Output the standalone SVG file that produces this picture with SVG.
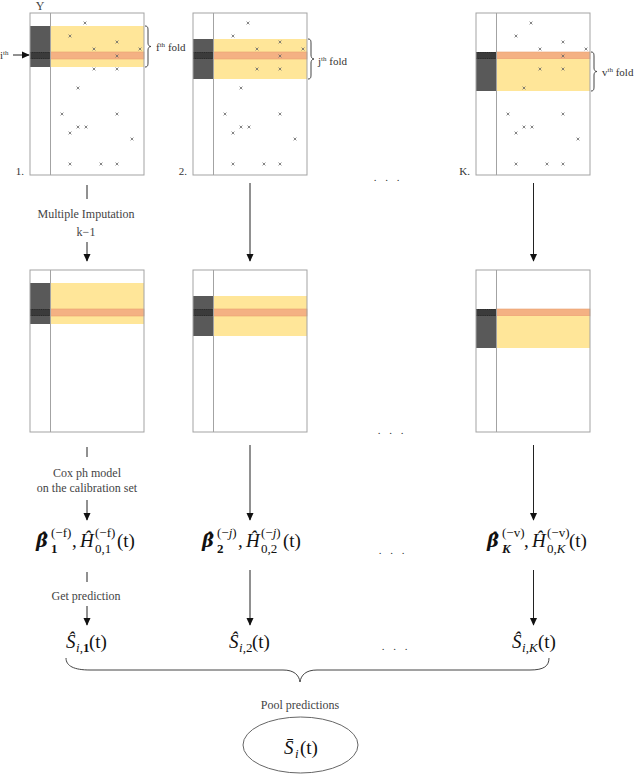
<svg xmlns="http://www.w3.org/2000/svg" xmlns:xlink="http://www.w3.org/1999/xlink" width="640" height="774" viewBox="0 0 640 774">
<style>
.frame{fill:none;stroke:#a3a3a3;stroke-width:1}
.bg{fill:#ffffff}
.yel{fill:#ffe699}
.ora{fill:#f4b183;stroke:#e9a070;stroke-width:0.6}
.dark{fill:#595959}
.darker{fill:#3b3b3b}
.dots{stroke:#222;stroke-width:0.7;stroke-dasharray:1 1.2}
.lbl{font-family:"Liberation Serif","DejaVu Serif",serif;font-size:12px;fill:#444}
.sm{font-family:"Liberation Serif","DejaVu Serif",serif;font-size:11px;fill:#333}
.m{font-family:"Liberation Serif","DejaVu Serif",serif;font-size:19px;fill:#111}
.mi{font-family:"Liberation Serif","DejaVu Serif",serif;font-size:19px;font-style:italic;fill:#111}
.mb{font-family:"DejaVu Serif","Liberation Serif",serif;font-size:18px;font-style:italic;font-weight:bold;fill:#111}
.s{font-family:"Liberation Serif","DejaVu Serif",serif;font-size:13px;fill:#111}
.conn{stroke:#222;stroke-width:1;fill:none}
.brace{stroke:#444;stroke-width:1;fill:none}
.x{stroke:#666;stroke-width:0.8}
</style>
<defs>
<marker id="ah" viewBox="0 0 10 10" refX="9" refY="5" markerWidth="8" markerHeight="8" markerUnits="userSpaceOnUse" orient="auto">
<path d="M0,0.5 L10,5 L0,9.5 z" fill="#111"/>
</marker>
<path id="xm" class="x" d="M-1.4,-1.4 L1.4,1.4 M1.4,-1.4 L-1.4,1.4"/>
<g id="crosses">
<use xlink:href="#xm" x="55" y="10"/><use xlink:href="#xm" x="40" y="23"/><use xlink:href="#xm" x="87" y="29"/>
<use xlink:href="#xm" x="64" y="36"/><use xlink:href="#xm" x="110" y="36"/><use xlink:href="#xm" x="87" y="43"/>
<use xlink:href="#xm" x="64" y="56"/><use xlink:href="#xm" x="87" y="56"/><use xlink:href="#xm" x="48" y="75"/>
<use xlink:href="#xm" x="32" y="101"/><use xlink:href="#xm" x="87" y="101"/><use xlink:href="#xm" x="48" y="114"/>
<use xlink:href="#xm" x="56" y="114"/><use xlink:href="#xm" x="40" y="120"/><use xlink:href="#xm" x="102" y="126"/>
<use xlink:href="#xm" x="40" y="151"/><use xlink:href="#xm" x="71" y="151"/><use xlink:href="#xm" x="87" y="151"/>
</g>
</defs>
<rect width="640" height="774" fill="#ffffff"/>

<!-- top row -->
<g id="data-1">
<text class="lbl" x="40" y="10" text-anchor="middle">Y</text>
<rect class="bg" x="30" y="13" width="114" height="162"/>
<rect class="yel" x="50" y="26" width="94" height="41"/>
<rect class="dark" x="30" y="26" width="20" height="41"/>
<rect class="ora" x="50" y="52" width="94" height="7"/>
<rect class="darker" x="30" y="52" width="20" height="7"/>
<path class="dots" d="M30,52.5 H50 M30,58.5 H50"/>
<rect class="frame" x="30" y="13" width="114" height="162"/>
<line class="frame" x1="50.5" y1="13" x2="50.5" y2="175"/>
<use xlink:href="#crosses" transform="translate(30,13)"/>
<text class="sm" x="0" y="59">i<tspan dy="-4" font-size="7">th</tspan></text>
<line class="conn" x1="13" y1="55" x2="29" y2="55" marker-end="url(#ah)"/>
<path class="brace" d="M145,26 C148,26 148,28 148,31 L148,43 C148,45 149,46.5 151,46.5 C149,46.5 148,48 148,50 L148,62 C148,65 148,67 145,67"/>
<text class="sm" x="156" y="51">f<tspan dy="-4" font-size="7">th</tspan><tspan dy="4"> fold</tspan></text>
<text class="sm" x="24" y="175" text-anchor="end">1.</text>
</g>

<g id="data-2">
<rect class="bg" x="193" y="13" width="114" height="162"/>
<rect class="yel" x="213" y="39" width="94" height="40"/>
<rect class="dark" x="193" y="39" width="20" height="40"/>
<rect class="ora" x="213" y="52" width="94" height="7"/>
<rect class="darker" x="193" y="52" width="20" height="7"/>
<path class="dots" d="M193,52.5 H213 M193,58.5 H213"/>
<rect class="frame" x="193" y="13" width="114" height="162"/>
<line class="frame" x1="213.5" y1="13" x2="213.5" y2="175"/>
<use xlink:href="#crosses" transform="translate(193,13)"/>
<path class="brace" d="M308,39 C311,39 311,41 311,44 L311,55 C311,57 312,59 314,59 C312,59 311,61 311,63 L311,74 C311,77 311,79 308,79"/>
<text class="sm" x="318" y="65">j<tspan dy="-4" font-size="7">th</tspan><tspan dy="4"> fold</tspan></text>
<text class="sm" x="187" y="175" text-anchor="end">2.</text>
</g>

<g id="data-K">
<rect class="bg" x="476" y="13" width="114" height="162"/>
<rect class="ora" x="496" y="52" width="94" height="7"/>
<rect class="yel" x="496" y="59" width="94" height="32"/>
<rect class="dark" x="476" y="52" width="20" height="39"/>
<rect class="darker" x="476" y="52" width="20" height="7"/>
<path class="dots" d="M476,52.5 H496 M476,58.5 H496"/>
<rect class="frame" x="476" y="13" width="114" height="162"/>
<line class="frame" x1="496.5" y1="13" x2="496.5" y2="175"/>
<use xlink:href="#crosses" transform="translate(476,13)"/>
<path class="brace" d="M591,52 C594,52 594,54 594,57 L594,68 C594,70 595,71.5 597,71.5 C595,71.5 594,73 594,75 L594,86 C594,89 594,91 591,91"/>
<text class="sm" x="602" y="76">v<tspan dy="-4" font-size="7">th</tspan><tspan dy="4"> fold</tspan></text>
<text class="sm" x="470" y="175" text-anchor="end">K.</text>
</g>
<text class="sm" x="388" y="181" text-anchor="middle" letter-spacing="3">. . .</text>

<!-- middle row -->
<g id="imputed-1">
<rect class="bg" x="30" y="270" width="114" height="162"/>
<rect class="yel" x="50" y="283" width="94" height="41"/>
<rect class="dark" x="30" y="283" width="20" height="41"/>
<rect class="ora" x="50" y="309" width="94" height="7"/>
<rect class="darker" x="30" y="309" width="20" height="7"/>
<path class="dots" d="M30,309.5 H50 M30,315.5 H50"/>
<rect class="frame" x="30" y="270" width="114" height="162"/>
<line class="frame" x1="50.5" y1="270" x2="50.5" y2="432"/>
</g>
<g id="imputed-2">
<rect class="bg" x="193" y="270" width="114" height="162"/>
<rect class="yel" x="213" y="296" width="94" height="40"/>
<rect class="dark" x="193" y="296" width="20" height="40"/>
<rect class="ora" x="213" y="309" width="94" height="7"/>
<rect class="darker" x="193" y="309" width="20" height="7"/>
<path class="dots" d="M193,309.5 H213 M193,315.5 H213"/>
<rect class="frame" x="193" y="270" width="114" height="162"/>
<line class="frame" x1="213.5" y1="270" x2="213.5" y2="432"/>
</g>
<g id="imputed-K">
<rect class="bg" x="476" y="270" width="114" height="162"/>
<rect class="ora" x="496" y="309" width="94" height="7"/>
<rect class="yel" x="496" y="316" width="94" height="32"/>
<rect class="dark" x="476" y="309" width="20" height="39"/>
<rect class="darker" x="476" y="309" width="20" height="7"/>
<path class="dots" d="M476,309.5 H496 M476,315.5 H496"/>
<rect class="frame" x="476" y="270" width="114" height="162"/>
<line class="frame" x1="496.5" y1="270" x2="496.5" y2="432"/>
</g>
<text class="sm" x="392" y="434" text-anchor="middle" letter-spacing="3">. . .</text>

<!-- estimates -->
<g id="est-1" transform="translate(36,547)">
<text class="mb" x="0" y="0">β̂</text>
<text class="s" x="15" y="6" font-weight="bold">1</text>
<text class="s" x="15" y="-10">(−f)</text>
<text class="m" x="36" y="0">,</text>
<text class="mi" x="44" y="0">Ĥ</text>
<text class="s" x="59" y="6">0,1</text>
<text class="s" x="59" y="-10">(−f)</text>
<text class="m" x="81" y="0">(t)</text>
</g>
<g id="est-2" transform="translate(202,547)">
<text class="mb" x="0" y="0">β̂</text>
<text class="s" x="15" y="6" font-weight="bold">2</text>
<text class="s" x="15" y="-10">(−<tspan font-style="italic">j</tspan>)</text>
<text class="m" x="36" y="0">,</text>
<text class="mi" x="44" y="0">Ĥ</text>
<text class="s" x="59" y="6">0,2</text>
<text class="s" x="59" y="-10">(−<tspan font-style="italic">j</tspan>)</text>
<text class="m" x="81" y="0">(t)</text>
</g>
<g id="est-K" transform="translate(487,547)">
<text class="mb" x="0" y="0">β̂</text>
<text class="s" x="15" y="6" font-weight="bold" font-style="italic">K</text>
<text class="s" x="15" y="-10">(−v)</text>
<text class="m" x="37" y="0">,</text>
<text class="mi" x="45" y="0">Ĥ</text>
<text class="s" x="60" y="6">0,<tspan font-style="italic">K</tspan></text>
<text class="s" x="60" y="-10">(−v)</text>
<text class="m" x="82" y="0">(t)</text>
</g>
<text class="sm" x="393" y="554" text-anchor="middle" letter-spacing="3">. . .</text>

<!-- predictions -->
<g id="pred-1" transform="translate(66,648)">
<text class="mi" x="0" y="0">Ŝ</text>
<text class="s" x="10" y="4"><tspan font-style="italic">i</tspan>,<tspan font-weight="bold">1</tspan></text>
<text class="m" x="23" y="0">(t)</text>
</g>
<g id="pred-2" transform="translate(229,648)">
<text class="mi" x="0" y="0">Ŝ</text>
<text class="s" x="10" y="4"><tspan font-style="italic">i</tspan>,2</text>
<text class="m" x="23" y="0">(t)</text>
</g>
<g id="pred-K" transform="translate(512,648)">
<text class="mi" x="0" y="0">Ŝ</text>
<text class="s" x="10" y="4"><tspan font-style="italic">i</tspan>,<tspan font-style="italic">K</tspan></text>
<text class="m" x="26" y="0">(t)</text>
</g>
<text class="sm" x="396" y="650" text-anchor="middle" letter-spacing="3">. . .</text>

<!-- pooled -->
<g id="pooled">
<ellipse cx="300.5" cy="745" rx="57.5" ry="28" fill="none" stroke="#666" stroke-width="1"/>
<text class="mi" x="284" y="754" font-size="21">S̄</text>
<text class="s" x="295" y="758" font-style="italic" font-size="14">i</text>
<text class="m" x="300" y="754" font-size="20">(t)</text>
</g>

<!-- connectors -->
<g id="connectors">
<line class="conn" x1="87" y1="185" x2="87" y2="199"/>
<text class="lbl" x="86" y="218" text-anchor="middle">Multiple Imputation</text>
<text class="lbl" x="86" y="236" text-anchor="middle">k−1</text>
<line class="conn" x1="87" y1="242" x2="87" y2="261" marker-end="url(#ah)"/>
<line class="conn" x1="250" y1="183" x2="250" y2="261" marker-end="url(#ah)"/>
<line class="conn" x1="533.5" y1="183" x2="533.5" y2="261" marker-end="url(#ah)"/>

<line class="conn" x1="87" y1="447" x2="87" y2="457"/>
<text class="lbl" x="87" y="477" text-anchor="middle">Cox ph model</text>
<text class="lbl" x="87" y="492" text-anchor="middle">on the calibration set</text>
<line class="conn" x1="87" y1="500" x2="87" y2="520" marker-end="url(#ah)"/>
<line class="conn" x1="250" y1="445" x2="250" y2="520" marker-end="url(#ah)"/>
<line class="conn" x1="533.5" y1="445" x2="533.5" y2="520" marker-end="url(#ah)"/>

<line class="conn" x1="87" y1="572" x2="87" y2="582"/>
<text class="lbl" x="86" y="600" text-anchor="middle">Get prediction</text>
<line class="conn" x1="87" y1="606" x2="87" y2="625" marker-end="url(#ah)"/>
<line class="conn" x1="250" y1="570" x2="250" y2="625" marker-end="url(#ah)"/>
<line class="conn" x1="533.5" y1="570" x2="533.5" y2="625" marker-end="url(#ah)"/>

<path class="brace" d="M66,658 C66,666 74,670 90,670 L283,670 C294,670 299,675 300,682 C301,675 306,670 317,670 L530,670 C544,670 549,666 549,658"/>
<text class="lbl" x="300" y="709" text-anchor="middle">Pool predictions</text>
</g>
</svg>
